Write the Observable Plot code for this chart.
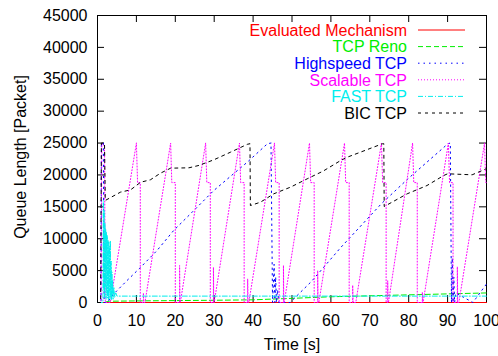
<!DOCTYPE html>
<html><head><meta charset="utf-8">
<script src="https://cdn.jsdelivr.net/npm/d3@7"></script>
<script src="https://cdn.jsdelivr.net/npm/@observablehq/plot@0.6"></script>
<style>
body{margin:0;background:#fff;}
#chart svg{display:block;}
</style>
</head><body><div id="chart"></div>
<script>
// ---------- data ----------
const xTicks = [0, 10, 20, 30, 40, 50, 60, 70, 80, 90, 100];
const yTicks = [0, 5000, 10000, 15000, 20000, 25000, 30000, 35000, 40000, 45000];

const evalTime  = [0, 100];
const evalQueue = [0, 0];

const renoTime  = [0, 1.5, 3, 10, 20, 30, 40, 50, 60, 70, 80, 90, 100];
const renoQueue = [0, 0, 200, 250, 300, 350, 420, 650, 900, 1050, 1200, 1350, 1500];

const highTime  = [0, 0.9, 1.0, 1.5, 1.7, 2.5, 4.2, 7.6, 11.1, 15.3, 19.6, 23.9, 29.9, 35, 38.5, 43.7, 44.6, 45.0, 45.4, 45.6, 45.8, 46.0, 46.3, 46.6, 49.5, 55, 62.5, 73, 80, 90.1, 90.7, 91.0, 91.2, 91.4, 91.6, 91.8, 92.1, 96.5, 97.2, 100];
const highQueue = [0, 0, 25000, 25000, 0, 0, 1360, 3450, 5530, 8150, 11300, 13900, 17560, 20200, 22000, 24900, 25000, 0, 6000, 0, 4000, 0, 2000, 0, 0, 3300, 8600, 15500, 19500, 24900, 25000, 0, 7000, 0, 4000, 0, 1500, 0, 580, 2900];

const scalTime  = [0, 0.9, 1.1, 1.8, 2.0, 3.3,
  10.0, 10.3, 11.0, 11.0, 11.8, 11.8, 11.9, 12.2,
  18.8, 19.1, 20.0, 20.0, 21.1, 21.1, 21.2, 21.3,
  27.8, 28.1, 29.0, 29.0, 29.8, 29.8, 29.9, 30.0,
  36.5, 36.8, 37.7, 37.7, 38.6, 38.6, 38.7, 38.9,
  45.5, 45.8, 46.7, 46.7, 47.8, 47.8, 47.9, 48.0,
  54.5, 54.8, 55.7, 55.7, 56.6, 56.6, 56.7, 56.9,
  63.5, 63.8, 64.7, 64.7, 65.6, 65.6, 65.7, 66.4,
  73.0, 73.3, 74.2, 74.2, 74.6, 74.6, 74.7, 74.8,
  81.0, 81.3, 82.2, 82.2, 83.5, 83.5, 83.6, 83.7,
  90.2, 90.5, 91.4, 91.4, 92.5, 92.5, 92.6, 92.9,
  99.5, 99.8, 100];
const scalQueue = [0, 0, 25000, 24500, 0, 0,
  25000, 18800, 18800, 0, 0, 1500, 0, 0,
  25000, 18800, 18800, 0, 0, 5800, 0, 0,
  25000, 18800, 18800, 0, 0, 5500, 0, 0,
  25000, 18800, 18800, 0, 0, 3700, 0, 0,
  25000, 18800, 18800, 0, 0, 5800, 0, 0,
  25000, 18800, 18800, 0, 0, 5000, 0, 0,
  25000, 18800, 18800, 0, 0, 2700, 0, 0,
  25000, 18800, 18800, 0, 0, 3400, 0, 0,
  25000, 18800, 18800, 0, 0, 1600, 0, 0,
  25000, 18800, 18800, 0, 0, 5600, 0, 0,
  25000, 18800, 18800];

const fastTime  = [0, 1.4, 1.5, 1.6, 1.7, 1.8, 1.9, 2.0, 2.1, 2.2, 2.3, 2.4, 2.5, 2.6, 2.7, 2.8, 2.9, 3.0, 3.1, 3.2, 3.3, 3.4, 3.5, 3.6, 3.7, 3.8, 3.9, 4.0, 4.2, 4.4, 4.7, 5.0, 100];
const fastQueue = [0, 0, 16000, 2000, 14500, 800, 12500, 2500, 11500, 500, 11000, 1500, 10500, 700, 9800, 400, 9500, 1800, 8800, 500, 9700, 900, 6500, 400, 4800, 1200, 3500, 500, 2400, 800, 1500, 1000, 1000];

const bicTime  = [0, 0.8, 1.0, 1.8, 2.0, 5.9, 8.5, 11.1, 13.6, 16.2, 18.8, 23.5, 26, 29.9, 34.2, 38.5, 39.2, 39.3, 41.9, 45.3, 49.6, 53.9, 58, 62.5, 64.2, 67.6, 73.2, 73.6, 73.7, 79.6, 84.7, 89, 90, 96.3, 99.3, 100];
const bicQueue = [0, 0, 25000, 25000, 16000, 17300, 17660, 18860, 19240, 20280, 21060, 21120, 21480, 22370, 23570, 24800, 24900, 15200, 15730, 17040, 18080, 19390, 20600, 22260, 22780, 23570, 24880, 24900, 15050, 17040, 18340, 19910, 20180, 20020, 20800, 21000];

const seriesNames  = ["Evaluated Mechanism", "TCP Reno", "Highspeed TCP", "Scalable TCP", "FAST TCP", "BIC TCP"];
const seriesColors = ["#ff0000", "#00ee00", "#0000ff", "#ff00ff", "#00eeee", "#000000"];
const seriesDashes = [null, "5,3", "1.5,4", "1,2", "5,2,1,2", "3,4"];
const seriesTimes  = [evalTime, renoTime, highTime, scalTime, fastTime, bicTime];
const seriesQueues = [evalQueue, renoQueue, highQueue, scalQueue, fastQueue, bicQueue];

// ---------- layout ----------
const W = 498, H = 356;
const mL = 97, mR = 12, mT = 15, mB = 54;
const tickLen = 7;
const plotW = W - mL - mR, plotH = H - mT - mB;
const FONT = "'Liberation Sans', Arial, Helvetica, sans-serif";

const lineMarks = seriesNames.map((name, k) =>
  Plot.line(seriesTimes[k].map((t, i) => ({t, q: seriesQueues[k][i]})), {
    x: "t", y: "q", stroke: seriesColors[k], strokeWidth: 1,
    strokeDasharray: seriesDashes[k] || undefined
  })
);

function legend(index, scales, values, dims) {
  const right = dims.width - dims.marginRight;
  const g = d3.create("svg:g").attr("font-family", FONT).attr("font-size", 16);
  seriesNames.forEach((name, i) => {
    const cy = dims.marginTop + 15 + 16.6 * i;
    g.append("text").attr("x", right - 79).attr("y", cy + 5.7)
      .attr("text-anchor", "end").attr("fill", seriesColors[i]).text(name);
    const ln = g.append("line").attr("x1", right - 68).attr("x2", right - 21)
      .attr("y1", cy).attr("y2", cy).attr("stroke", seriesColors[i]).attr("stroke-width", 1);
    if (seriesDashes[i]) ln.attr("stroke-dasharray", seriesDashes[i]);
  });
  return g.node();
}

const chart = Plot.plot({
  width: W, height: H,
  marginLeft: mL, marginRight: mR, marginTop: mT, marginBottom: mB,
  style: {fontFamily: FONT, fontSize: "16px", color: "#000", background: "#fff", overflow: "visible"},
  x: {domain: [0, 100]},
  y: {domain: [0, 45000]},
  marks: [
    Plot.frame({stroke: "#000", strokeWidth: 1}),
    Plot.tickX(xTicks, {x: d => d, insetTop: plotH - tickLen, stroke: "#000"}),
    Plot.tickX(xTicks, {x: d => d, insetBottom: plotH - tickLen, stroke: "#000"}),
    Plot.tickY(yTicks, {y: d => d, insetRight: plotW - tickLen, stroke: "#000"}),
    Plot.tickY(yTicks, {y: d => d, insetLeft: plotW - tickLen, stroke: "#000"}),
    Plot.axisX(xTicks, {tickSize: 0, tickPadding: 12, fontSize: 16, label: null, tickFormat: d => String(d)}),
    Plot.axisY(yTicks, {tickSize: 0, tickPadding: 10, fontSize: 16, label: null, tickFormat: d => String(d)}),
    Plot.text(["Time [s]"], {frameAnchor: "bottom", dy: 42, textAnchor: "middle", lineAnchor: "middle", fontSize: 16, fill: "#000"}),
    Plot.text(["Queue Length [Packet]"], {frameAnchor: "left", dx: -77, dy: -2, rotate: -90, textAnchor: "middle", lineAnchor: "middle", fontSize: 16, fill: "#000"}),
    ...lineMarks,
    legend
  ]
});
document.getElementById("chart").appendChild(chart);
</script>
</body></html>
